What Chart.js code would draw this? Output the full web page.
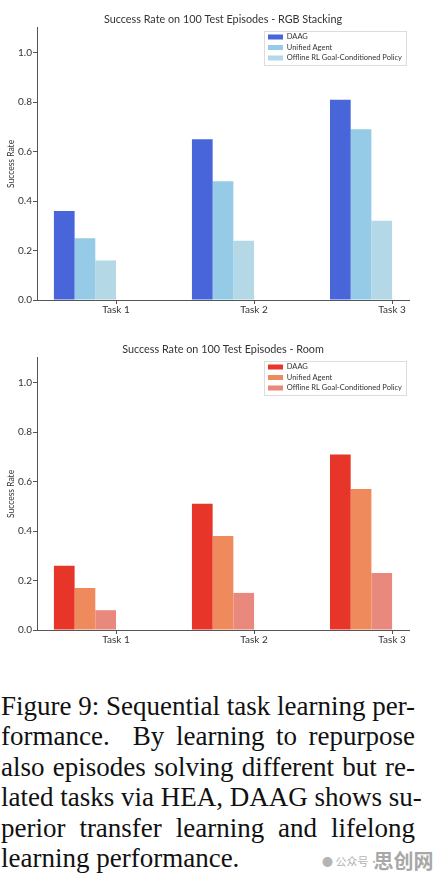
<!DOCTYPE html>
<html>
<head>
<meta charset="utf-8">
<script src="https://cdn.jsdelivr.net/npm/chart.js@4.4.1/dist/chart.umd.min.js"></script>
<style>
    html, body { margin: 0; padding: 0; background: #fff; }
    body { width: 439px; height: 876px; position: relative; overflow: hidden; }
    .chart-box { position: absolute; left: 0; width: 439px; height: 320px; }
    #caption {
        position: absolute; left: 1px; top: 691px; width: 414px;
        font-family: "Liberation Serif", "Times New Roman", serif;
        font-size: 27px; line-height: 30.4px; color: #111;
    }
    #caption div { white-space: nowrap; text-align: justify; text-align-last: justify; }
    #caption div.last { text-align-last: left; }
    #mark { position: absolute; left: 322px; top: 846px; color: #b4b4b4; font-family: "Noto Sans CJK SC", sans-serif; white-space: nowrap; }
    #mark .small { font-size: 11px; vertical-align: 3px; }
    #mark .big { font-size: 20px; font-weight: bold; color: #a8a8a8; margin-left: -6px; }
</style>
</head>
<body>
<div class="chart-box" style="top:0"><canvas id="rgbChart"></canvas></div>
<div class="chart-box" style="top:330px"><canvas id="roomChart"></canvas></div>

<div id="caption">
    <div>Figure 9: Sequential task learning per-</div>
    <div>formance.&nbsp; By learning to repurpose</div>
    <div>also episodes solving different but re-</div>
    <div>lated tasks via HEA, DAAG shows su-</div>
    <div>perior transfer learning and lifelong</div>
    <div class="last">learning performance.</div>
</div>
<div id="mark"><span class="small">● 公众号·</span><span class="big">思创网</span></div>

<script>
// Categories and series
const TASKS = ['Task 1', 'Task 2', 'Task 3'];
const SERIES_NAMES = ['DAAG', 'Unified Agent', 'Offline RL Goal-Conditioned Policy'];

// RGB Stacking
const RGB_DAAG = [0.36, 0.65, 0.81];
const RGB_UNIFIED = [0.25, 0.48, 0.69];
const RGB_OFFLINE = [0.16, 0.24, 0.32];

// Room
const ROOM_DAAG = [0.26, 0.51, 0.71];
const ROOM_UNIFIED = [0.17, 0.38, 0.57];
const ROOM_OFFLINE = [0.08, 0.15, 0.23];

const Y_TICKS = [0, 0.2, 0.4, 0.6, 0.8, 1.0];

// bars of one group take CAT_PCT of the task spacing, tick sits at the right edge of the group
const CAT_PCT = 0.45;
const TICK_SHIFT = CAT_PCT / 2;
const X_MARGIN = 0.1225;

const FONT = 'Lato, Roboto, sans-serif';
const TEXT = '#333';
const AXIS = '#555';

// Center the title over the plot, put the legend in the top right corner and frame it
const plotDecor = {
    id: 'plotDecor',
    afterLayout(chart) {
        const area = chart.chartArea;
        const tb = chart.titleBlock;
        tb.left = area.left;
        tb.right = area.right;
        tb.width = area.right - area.left;

        const lg = chart.legend;
        const pad = lg.options.labels.padding;
        const w = lg.width, h = lg.height;
        lg.left = area.right - 141 - pad;
        lg.top = area.top + 2.2;
        lg.right = lg.left + w;
        lg.bottom = lg.top + h;
    },
    afterDraw(chart) {
        const area = chart.chartArea;
        const ctx = chart.ctx;
        ctx.save();
        ctx.strokeStyle = '#dcdcdc';
        ctx.lineWidth = 1;
        ctx.strokeRect(area.right - 144.5, area.top + 3.5, 142, 34);
        ctx.restore();
    }
};

function points(values) {
    return values.map((v, i) => ({ x: i + 1, y: v }));
}

function makeChart(id, title, series, colors) {
    const ctx = document.getElementById(id);
    return new Chart(ctx, {
        type: 'bar',
        data: {
            datasets: series.map((values, k) => ({
                label: SERIES_NAMES[k],
                data: points(values),
                backgroundColor: colors[k],
                borderWidth: 0,
                categoryPercentage: CAT_PCT,
                barPercentage: 1.0
            }))
        },
        options: {
            responsive: true,
            maintainAspectRatio: false,
            animation: false,
            layout: { padding: { left: 0, right: 30, top: 0, bottom: 0 } },
            plugins: {
                title: {
                    display: true,
                    text: title,
                    color: TEXT,
                    font: { family: FONT, size: 10.8, weight: 'normal' },
                    padding: { top: 13, bottom: 2 }
                },
                legend: {
                    position: 'chartArea',
                    align: 'start',
                    labels: {
                        color: TEXT,
                        font: { family: FONT, size: 7.5 },
                        boxWidth: 15,
                        boxHeight: 5,
                        padding: 3
                    }
                },
                tooltip: { enabled: false }
            },
            scales: {
                x: {
                    type: 'linear',
                    min: 1 - TICK_SHIFT - X_MARGIN,
                    max: TASKS.length + TICK_SHIFT + X_MARGIN,
                    offset: false,
                    afterBuildTicks: (scale) => {
                        scale.ticks = TASKS.map((t, i) => ({ value: i + 1 + TICK_SHIFT }));
                    },
                    afterFit: (scale) => { scale.height = 20; },
                    ticks: {
                        color: TEXT,
                        font: { family: FONT, size: 10 },
                        padding: 0,
                        maxRotation: 0,
                        callback: (value, index) => TASKS[index]
                    },
                    grid: {
                        display: true,
                        drawOnChartArea: false,
                        drawTicks: true,
                        tickLength: 4,
                        color: AXIS,
                        offset: false
                    },
                    border: { display: true, color: AXIS, width: 1 }
                },
                y: {
                    min: 0,
                    max: 1.1,
                    afterBuildTicks: (scale) => {
                        scale.ticks = Y_TICKS.map(v => ({ value: v }));
                    },
                    afterFit: (scale) => { scale.width = 37; },
                    ticks: {
                        color: TEXT,
                        font: { family: FONT, size: 10 },
                        padding: 1,
                        callback: (value) => value.toFixed(1)
                    },
                    grid: {
                        display: true,
                        drawOnChartArea: false,
                        drawTicks: true,
                        tickLength: 4,
                        color: AXIS
                    },
                    border: { display: true, color: AXIS, width: 1 },
                    title: {
                        display: true,
                        text: 'Success Rate',
                        color: TEXT,
                        font: { family: FONT, size: 8.5 },
                        padding: { top: 6, bottom: 0 }
                    }
                }
            }
        },
        plugins: [plotDecor]
    });
}

document.addEventListener('DOMContentLoaded', function() {
    makeChart('rgbChart', 'Success Rate on 100 Test Episodes - RGB Stacking',
        [RGB_DAAG, RGB_UNIFIED, RGB_OFFLINE],
        ['#4866d9', '#95cbe6', '#b4d8e5']);
    makeChart('roomChart', 'Success Rate on 100 Test Episodes - Room',
        [ROOM_DAAG, ROOM_UNIFIED, ROOM_OFFLINE],
        ['#e8352a', '#ef8a5d', '#e9887c']);
});
</script>
</body>
</html>
